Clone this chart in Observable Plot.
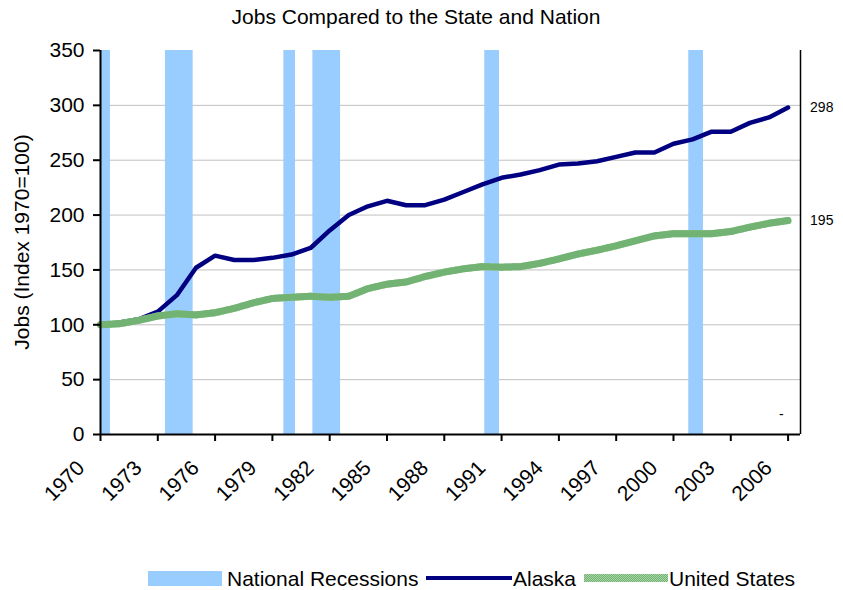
<!DOCTYPE html>
<html>
<head>
<meta charset="utf-8">
<script src="https://cdn.jsdelivr.net/npm/d3@7"></script>
<script src="https://cdn.jsdelivr.net/npm/@observablehq/plot@0.6"></script>
<style>
  html, body { margin: 0; padding: 0; background: #fff; }
  #wrap { position: relative; width: 843px; height: 590px; font-family: "Liberation Sans", Arial, sans-serif; color: #000; overflow: hidden; }
  #title { position: absolute; left: 0; width: 832px; top: 4px; text-align: center; font-size: 21px; line-height: 26px; }
  #ylabel { position: absolute; left: 22px; top: 242px; transform: translate(-50%, -50%) rotate(-90deg); font-size: 21px; white-space: nowrap; }
  #chart { position: absolute; left: 0; top: 30px; }
  .lg { position: absolute; }
  .lgtext { position: absolute; font-size: 21px; line-height: 21px; top: 568px; white-space: nowrap; }
</style>
</head>
<body>
<div id="wrap">
  <div id="chart"></div>
  <div id="title">Jobs Compared to the State and Nation</div>
  <div id="ylabel">Jobs (Index 1970=100)</div>
  <div class="lg" style="left:148px; top:571px; width:74px; height:15px; background:#99ccff;"></div>
  <div class="lgtext" style="left:227px;">National Recessions</div>
  <div class="lg" style="left:426px; top:576px; width:86px; height:4px; background:#000080;"></div>
  <div class="lgtext" style="left:513px;">Alaska</div>
  <div class="lg" style="left:584px; top:574px; width:84px; height:8px; background-color:#a8d8a8; background-image: repeating-conic-gradient(#70b070 0% 25%, transparent 0% 50%); background-size:2px 2px;"></div>
  <div class="lgtext" style="left:669px;">United States</div>
</div>
<script>
const years = [1970,1971,1972,1973,1974,1975,1976,1977,1978,1979,1980,1981,1982,1983,1984,1985,1986,1987,1988,1989,1990,1991,1992,1993,1994,1995,1996,1997,1998,1999,2000,2001,2002,2003,2004,2005,2006];
const alaska = [100,102,105,112,127,152,163,159,159,161,164,170,186,200,208,213,209,209,214,221,228,234,237,241,246,247,249,253,257,257,265,269,276,276,284,289,298];
const unitedStates = [100,101,104,108,110,109,111,115,120,124,125,126,125,126,133,137,139,144,148,151,153,152.5,153,156,160,164.5,168,172,176.5,181,183,183,183,185,189,192.5,195];
const recessionStart = [1970, 1973.40, 1979.60, 1981.12, 1990.12, 2000.80];
const recessionEnd   = [1970.52, 1974.85, 1980.21, 1982.57, 1990.89, 2001.57];
const xTickYears = [1970,1973,1976,1979,1982,1985,1988,1991,1994,1997,2000,2003,2006];
const yTicks = [0,50,100,150,200,250,300,350];
const gridValues = [50,100,150,200,250,300];
const endLabels = [{year: 2006, value: 298, text: "298"}, {year: 2006, value: 195, text: "195"}];
const xMax = 2006.65;

const akData = years.map((y, i) => ({year: y, value: alaska[i]}));
const usData = years.map((y, i) => ({year: y, value: unitedStates[i]}));
const recessions = recessionStart.map((s, i) => ({start: s, end: recessionEnd[i]}));

const plot = Plot.plot({
  width: 843,
  height: 500,
  marginLeft: 100,
  marginRight: 43,
  marginTop: 20,
  marginBottom: 96,
  style: {fontFamily: "'Liberation Sans', Arial, sans-serif", fontSize: "21px", color: "#000", background: "#fff"},
  x: {domain: [1970, xMax]},
  y: {domain: [0, 350]},
  marks: [
    Plot.ruleY(gridValues, {stroke: "#c0c0c0", strokeWidth: 1}),
    Plot.rect(recessions, {x1: "start", x2: "end", y1: 0, y2: 350, fill: "#99ccff"}),
    Plot.line(akData, {x: "year", y: "value", stroke: "#000080", strokeWidth: 4.5, strokeLinejoin: "round", strokeLinecap: "round"}),
    Plot.line(usData, {x: "year", y: "value", stroke: "#a8d8a8", strokeWidth: 7, strokeLinejoin: "round"}),
    Plot.line(usData, {x: "year", y: "value", stroke: "#72b272", strokeWidth: 7, strokeDasharray: "1,1", strokeLinejoin: "round"}),
    Plot.ruleX([xMax], {stroke: "#000", strokeWidth: 1.5}),
    Plot.ruleX([1970], {stroke: "#000", strokeWidth: 2}),
    Plot.ruleY([0], {stroke: "#000", strokeWidth: 2}),
    // tick marks only
    Plot.axisX(xTickYears, {tickFormat: () => "", tickSize: 7, stroke: "#000", strokeWidth: 2, label: null}),
    // rotated year labels (dx/dy act in the rotated frame)
    Plot.axisX(xTickYears, {tickFormat: d => String(d), tickRotate: -45, tickSize: 0, tickPadding: 15, dx: -19.5, dy: 15, strokeWidth: 0, fill: "#000", label: null, fontSize: 21}),
    Plot.axisY(yTicks, {tickSize: 7, tickPadding: 9, stroke: "#000", strokeWidth: 2, fill: "#000", label: null, fontSize: 21}),
    Plot.text(endLabels, {x: "year", y: "value", text: "text", dx: 22, textAnchor: "start", fontSize: 14, fill: "#000"}),
    Plot.text(["-"], {x: 2005.65, y: 18, text: d => d, fontSize: 14, fill: "#000"})
  ]
});

document.getElementById("chart").appendChild(plot);
</script>
</body>
</html>
